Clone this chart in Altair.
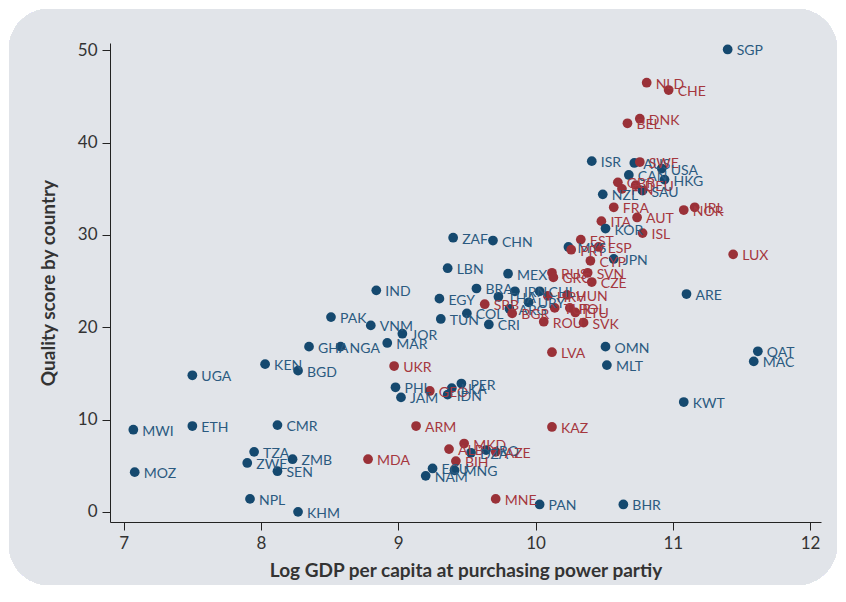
import altair as alt
import pandas as pd

codes = ["SGP","NLD","CHE","DNK","BEL","ISR","AUS","SWE","USA","CAN","HKG","GBR","FIN","DEU","SAU",
         "NZL","FRA","IRL","NOR","ITA","AUT","KOR","ISL","EST","MYS","PRT","ESP","CYP","JPN","RUS",
         "GRC","SVN","CZE","MEX","CHN","ZAF","LBN","BRA","IRN","CHL","HRV","HUN","THA","EGY","URY",
         "SRB","ARG","TUR","POL","LTU","BGR","COL","TUN","ROU","SVK","CRI","LVA","IND","PAK","VNM",
         "JOR","MAR","GHA","NGA","KEN","BGD","UKR","UGA","PHL","JAM","GEO","LKA","PER","IDN","ARM",
         "KAZ","MKD","ALB","DZA","IRQ","AZE","BIH","ECU","MNG","NAM","MDA","MNE","PAN","BHR","MWI",
         "ETH","CMR","TZA","ZWE","ZMB","SEN","MOZ","NPL","KHM","ARE","OMN","MLT","QAT","MAC","KWT","LUX"]

log_gdp = [11.40,10.81,10.97,10.76,10.67,10.41,10.72,10.76,10.92,10.68,10.94,10.60,10.63,10.73,10.78,
           10.49,10.57,11.16,11.08,10.48,10.74,10.51,10.78,10.33,10.24,10.26,10.46,10.40,10.57,10.12,
           10.13,10.38,10.41,9.80,9.69,9.40,9.36,9.57,9.85,10.03,10.09,10.23,9.73,9.30,9.95,
           9.63,9.81,10.14,10.25,10.29,9.83,9.50,9.31,10.06,10.35,9.66,10.12,8.84,8.51,8.80,
           9.03,8.92,8.35,8.58,8.03,8.27,8.97,7.50,8.98,9.02,9.23,9.39,9.46,9.36,9.13,
           10.12,9.48,9.37,9.53,9.64,9.71,9.42,9.25,9.41,9.20,8.78,9.71,10.03,10.64,7.07,
           7.50,8.12,7.95,7.90,8.23,8.12,7.08,7.92,8.27,11.10,10.51,10.52,11.62,11.59,11.08,11.44]

quality = [50.1,46.5,45.7,42.6,42.1,38.0,37.8,37.9,37.2,36.5,36.0,35.7,35.0,35.4,34.8,
           34.4,33.0,33.0,32.7,31.5,31.9,30.7,30.2,29.5,28.7,28.4,28.7,27.2,27.4,25.9,
           25.4,25.9,24.9,25.8,29.4,29.7,26.4,24.2,23.9,23.9,23.4,23.5,23.3,23.1,22.7,
           22.5,22.0,22.1,22.1,21.6,21.5,21.5,20.9,20.6,20.5,20.3,17.3,24.0,21.1,20.2,
           19.3,18.3,17.9,17.9,16.0,15.3,15.8,14.8,13.5,12.4,13.1,13.4,13.9,12.7,9.3,
           9.2,7.4,6.8,6.4,6.7,6.5,5.5,4.7,4.5,3.9,5.7,1.4,0.8,0.8,8.9,
           9.3,9.4,6.5,5.3,5.7,4.4,4.3,1.4,0.0,23.6,17.9,15.9,17.4,16.3,11.9,27.9]

red_codes = ["NLD","CHE","DNK","BEL","SWE","GBR","FIN","DEU","FRA","IRL","NOR","ITA","AUT","ISL",
             "EST","PRT","ESP","CYP","RUS","GRC","SVN","CZE","HRV","HUN","SRB","TUR","POL","LTU",
             "BGR","ROU","SVK","LVA","UKR","GEO","ARM","KAZ","MKD","ALB","AZE","BIH","MDA","MNE","LUX"]

df = pd.DataFrame({"code": codes, "gdp": log_gdp, "quality": quality})
df["group"] = ["red" if c in red_codes else "blue" for c in codes]

W, H = 711, 479
FONT = "Lato"

xscale = alt.Scale(domain=[6.9, 12.08], nice=False, zero=False)
yscale = alt.Scale(domain=[-1.1, 50.8], nice=False, zero=False)

xaxis = alt.Axis(values=[7, 8, 9, 10, 11, 12], format="d",
                 title="Log GDP per capita at purchasing power partiy",
                 grid=False, zindex=1, domainColor="#222222", tickColor="#222222", tickSize=8,
                 labelFontSize=17, labelColor="#333333", labelFont=FONT, labelPadding=5,
                 titleFont=FONT, titleFontSize=19, titleFontWeight="bold", titleColor="#333333",
                 titlePadding=10)
yaxis = alt.Axis(values=[0, 10, 20, 30, 40, 50], format="d", title="Quality score by country",
                 grid=False, zindex=1, domainColor="#222222", tickColor="#222222", tickSize=8,
                 labelFontSize=17, labelColor="#333333", labelFont=FONT, labelPadding=5,
                 titleFont=FONT, titleFontSize=19, titleFontWeight="bold", titleColor="#333333",
                 titlePadding=19)

bg = alt.Chart(df).mark_rect(color="#e1e4e9", cornerRadius=40).encode(
    x=alt.value(-101), x2=alt.value(W + 16), y=alt.value(-34), y2=alt.value(H + 63)
)

base = alt.Chart(df)
points = base.mark_circle(size=95, opacity=1).encode(
    x=alt.X("gdp:Q", scale=xscale, axis=xaxis),
    y=alt.Y("quality:Q", scale=yscale, axis=yaxis),
    color=alt.Color("group:N", scale=alt.Scale(domain=["blue", "red"], range=["#15496f", "#9a3138"]),
                    legend=None),
)
labels = base.mark_text(align="left", baseline="middle", dx=9, dy=2, fontSize=14, font=FONT).encode(
    x=alt.X("gdp:Q", scale=xscale),
    y=alt.Y("quality:Q", scale=yscale),
    text="code:N",
    color=alt.Color("group:N", scale=alt.Scale(domain=["blue", "red"], range=["#2b5a80", "#a5373e"]),
                    legend=None),
)

chart = alt.layer(bg, points, labels).properties(
    width=W, height=H,
    autosize=alt.AutoSizeParams(type="none"),
    padding={"left": 102, "top": 35, "right": 17, "bottom": 64},
    background="white",
).configure_view(stroke=None).resolve_scale(color="independent")

chart.save("out.html", embed_options={"renderer": "svg", "actions": False})
